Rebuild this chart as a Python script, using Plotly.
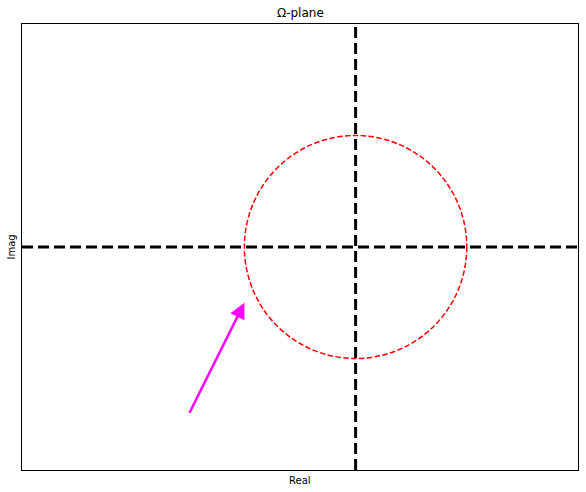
import plotly.graph_objects as go

# Data
x_range = [-3, 2]
y_range = [-2, 2]
circle_center = (0.0, 0.0)
circle_radius = 1.0
axis_x = 0.0
axis_y = 0.0
arrow_start = (-1.5, -1.5)
arrow_end = (-1.0, -0.5)
title_text = "Ω-plane"
xlabel = "Real"
ylabel = "Imag"

fig = go.Figure()
# invisible trace to establish axes
fig.add_trace(go.Scatter(x=x_range, y=y_range, mode="markers",
                         marker=dict(opacity=0), hoverinfo="skip", showlegend=False))

fig.add_shape(type="circle", xref="x", yref="y",
              x0=circle_center[0] - circle_radius, x1=circle_center[0] + circle_radius,
              y0=circle_center[1] - circle_radius, y1=circle_center[1] + circle_radius,
              line=dict(color="red", width=1.5, dash="5.5px,2.4px"))
fig.add_shape(type="line", xref="x", yref="paper", x0=axis_x, x1=axis_x, y0=0, y1=1,
              line=dict(color="black", width=3, dash="11px,5px"))
fig.add_shape(type="line", xref="paper", yref="y", x0=0, x1=1, y0=axis_y, y1=axis_y,
              line=dict(color="black", width=3, dash="11px,5px"))

fig.add_annotation(x=arrow_end[0], y=arrow_end[1], ax=arrow_start[0], ay=arrow_start[1],
                   xref="x", yref="y", axref="x", ayref="y", text="",
                   showarrow=True, arrowhead=2, arrowsize=1.25, arrowwidth=2.5,
                   arrowcolor="magenta", standoff=0)

fig.add_annotation(text=title_text, xref="paper", yref="paper", x=0.5, y=1, yshift=2,
                   xanchor="center", yanchor="bottom", showarrow=False,
                   font=dict(size=12, color="black"))
fig.add_annotation(text=xlabel, xref="paper", yref="paper", x=0.5, y=0, yshift=-3,
                   xanchor="center", yanchor="top", showarrow=False,
                   font=dict(size=10, color="black"))
fig.add_annotation(text=ylabel, xref="paper", yref="paper", x=0, y=0.5, xshift=-4,
                   xanchor="right", yanchor="middle", showarrow=False, textangle=-90,
                   font=dict(size=10, color="black"))

fig.update_xaxes(range=x_range, showticklabels=False, ticks="", showgrid=False,
                 zeroline=False, showline=True, linecolor="black", linewidth=1, mirror=True)
fig.update_yaxes(range=y_range, showticklabels=False, ticks="", showgrid=False,
                 zeroline=False, showline=True, linecolor="black", linewidth=1, mirror=True)

fig.update_layout(width=586, height=492, margin=dict(l=22, r=8, t=24, b=22),
                  plot_bgcolor="white", paper_bgcolor="white",
                  font=dict(family="DejaVu Sans", color="black"), showlegend=False)

fig.write_html("out.html", config={"displayModeBar": False},
               post_script="document.body.style.margin='0px';document.body.style.overflow='hidden';")
